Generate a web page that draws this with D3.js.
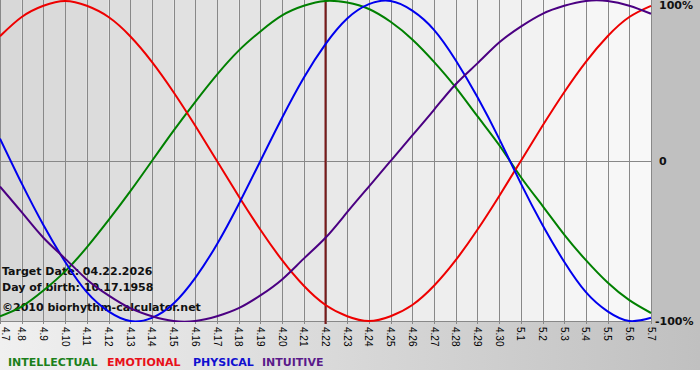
<!DOCTYPE html>
<html>
<head>
<meta charset="utf-8">
<script src="https://cdn.jsdelivr.net/npm/d3@7"></script>
<style>
  body { margin: 0; background: #fff; }
  svg { display: block; }
</style>
</head>
<body>
<div id="chart"></div>
<script>
// day labels, 4/7 .. 5/7/2026
const days = ["4.7", "4.8", "4.9", "4.10", "4.11", "4.12", "4.13", "4.14", "4.15", "4.16",
    "4.17", "4.18", "4.19", "4.20", "4.21", "4.22", "4.23", "4.24", "4.25", "4.26",
    "4.27", "4.28", "4.29", "4.30", "5.1", "5.2", "5.3", "5.4", "5.5", "5.6", "5.7"]
const targetDay = "4.22"

// cycle values per day, -1 .. 1
const physical = [0.14, -0.14, -0.40, -0.63, -0.82, -0.94, -1.00, -0.98, -0.89, -0.73,
    -0.52, -0.27, 0.00, 0.27, 0.52, 0.73, 0.89, 0.98, 1.00, 0.94,
    0.82, 0.63, 0.40, 0.14, -0.14, -0.40, -0.63, -0.82, -0.94, -1.00, -0.98]
const emotional = [0.78, 0.90, 0.97, 1.00, 0.97, 0.90, 0.78, 0.62, 0.43, 0.22,
    0.00, -0.22, -0.43, -0.62, -0.78, -0.90, -0.97, -1.00, -0.97, -0.90,
    -0.78, -0.62, -0.43, -0.22, 0.00, 0.22, 0.43, 0.62, 0.78, 0.90, 0.97]
const intellectual = [-0.97, -0.91, -0.81, -0.69, -0.54, -0.37, -0.19, 0.00, 0.19, 0.37,
    0.54, 0.69, 0.81, 0.91, 0.97, 1.00, 0.99, 0.95, 0.87, 0.76,
    0.62, 0.46, 0.28, 0.10, -0.10, -0.28, -0.46, -0.62, -0.76, -0.87, -0.95]
const intuitive = [-0.16, -0.32, -0.48, -0.61, -0.74, -0.84, -0.92, -0.97, -1.00, -1.00,
    -0.97, -0.92, -0.84, -0.74, -0.61, -0.48, -0.32, -0.16, 0.00, 0.16,
    0.32, 0.48, 0.61, 0.74, 0.84, 0.92, 0.97, 1.00, 1.00, 0.97, 0.92]

const yTicks = [1, 0, -1]
const yTickLabels = ["100%", "0", "-100%"]

const infoLines = ["Target Date: 04.22.2026", "Day of birth: 10.17.1958", "\u00a92010 biorhythm-calculator.net"]

const series = [
    { name: "INTELLECTUAL", values: intellectual, color: "#008000", legend: "#1b801b" },
    { name: "EMOTIONAL", values: emotional, color: "#ee0000", legend: "#e8101a" },
    { name: "PHYSICAL", values: physical, color: "#0000ee", legend: "#1010d0" },
    { name: "INTUITIVE", values: intuitive, color: "#4b0082", legend: "#5a1a8a" }
]

const width = 700
const height = 380
const plotW = 651
const plotTop = 1
const plotBottom = 321

const svg = d3.select("#chart").append("svg")
    .attr("width", width)
    .attr("height", height)
    .style("font-family", "'DejaVu Sans', Verdana, sans-serif")

const defs = svg.append("defs")
const grad = defs.append("linearGradient").attr("id", "bottomGrad")
grad.append("stop").attr("offset", "0%").attr("stop-color", "#f0f0f0")
grad.append("stop").attr("offset", "100%").attr("stop-color", "#c0c0c0")

defs.append("clipPath").attr("id", "plotClip")
    .append("rect").attr("x", 0).attr("y", 0).attr("width", plotW + 1).attr("height", plotBottom + 1)

const x = d3.scalePoint().domain(days).range([0, plotW])
const y = d3.scaleLinear().domain([-1, 1]).range([plotBottom, plotTop])

// backgrounds
svg.append("rect").attr("x", 0).attr("y", 0).attr("width", width).attr("height", height).attr("fill", "#fff")
svg.append("rect").attr("x", 0).attr("y", plotBottom).attr("width", width).attr("height", 49)
    .attr("fill", "url(#bottomGrad)")
svg.append("rect").attr("x", plotW + 1).attr("y", 0).attr("width", width - plotW - 1).attr("height", plotBottom + 1)
    .attr("fill", "#c0c0c0")

const shade = d3.scaleLinear().domain([0, days.length - 2]).range(["#d8d8d8", "#f8f8f8"])
svg.append("g")
    .selectAll("rect")
    .data(days.slice(0, -1))
    .enter()
    .append("rect")
    .attr("x", d => x(d))
    .attr("y", 0)
    .attr("width", x.step())
    .attr("height", plotBottom)
    .attr("fill", (d, i) => shade(i))

// vertical grid
svg.append("g")
    .selectAll("line")
    .data(days)
    .enter()
    .append("line")
    .attr("x1", d => Math.round(x(d)) + 0.5)
    .attr("x2", d => Math.round(x(d)) + 0.5)
    .attr("y1", 0)
    .attr("y2", plotBottom + 3)
    .attr("stroke", "#888")
    .attr("stroke-width", 1)

// horizontal lines at 0 and -100%
svg.append("g")
    .selectAll("line")
    .data([0, -1])
    .enter()
    .append("line")
    .attr("x1", 0)
    .attr("x2", plotW + 1)
    .attr("y1", d => Math.round(y(d)) + 0.5)
    .attr("y2", d => Math.round(y(d)) + 0.5)
    .attr("stroke", "#888")

// target day marker
svg.append("line")
    .attr("x1", x(targetDay))
    .attr("x2", x(targetDay))
    .attr("y1", 0)
    .attr("y2", plotBottom + 3)
    .attr("stroke", "#7a1a1a")
    .attr("stroke-width", 2)

// info text
svg.append("g")
    .selectAll("text")
    .data(infoLines)
    .enter()
    .append("text")
    .attr("x", 2)
    .attr("y", (d, i) => [275, 291, 311][i])
    .attr("font-size", 11)
    .attr("font-weight", "bold")
    .attr("fill", "#111")
    .text(d => d)

// curves
const line = d3.line()
    .x((d, i) => x(days[i]))
    .y(d => y(d))
    .curve(d3.curveNatural)

svg.append("g")
    .attr("clip-path", "url(#plotClip)")
    .selectAll("path")
    .data(series)
    .enter()
    .append("path")
    .attr("d", d => line(d.values))
    .attr("fill", "none")
    .attr("stroke", d => d.color)
    .attr("stroke-width", 2)

// day labels, rotated
svg.append("g")
    .selectAll("text")
    .data(days)
    .enter()
    .append("text")
    .attr("transform", d => `translate(${Math.max(x(d), 5)},${plotBottom + 6}) rotate(90)`)
    .attr("dy", "0.35em")
    .attr("font-family", "'Liberation Sans', Arial, sans-serif")
    .attr("font-size", 10)
    .attr("fill", "#000")
    .text(d => d)

// right axis labels
svg.append("g")
    .selectAll("text")
    .data(yTicks)
    .enter()
    .append("text")
    .attr("x", (d, i) => i === 2 ? 655 : 659)
    .attr("y", d => y(d))
    .attr("dy", d => d === 1 ? "0.75em" : "0.35em")
    .attr("font-size", 11)
    .attr("font-weight", "bold")
    .attr("fill", "#111")
    .text((d, i) => yTickLabels[i])

// legend
const legendX = [8, 107, 193, 262]
svg.append("g")
    .selectAll("text")
    .data(series)
    .enter()
    .append("text")
    .attr("x", (d, i) => legendX[i])
    .attr("y", 366)
    .attr("font-size", 11)
    .attr("font-weight", "bold")
    .attr("fill", d => d.legend)
    .text(d => d.name)
</script>
</body>
</html>
